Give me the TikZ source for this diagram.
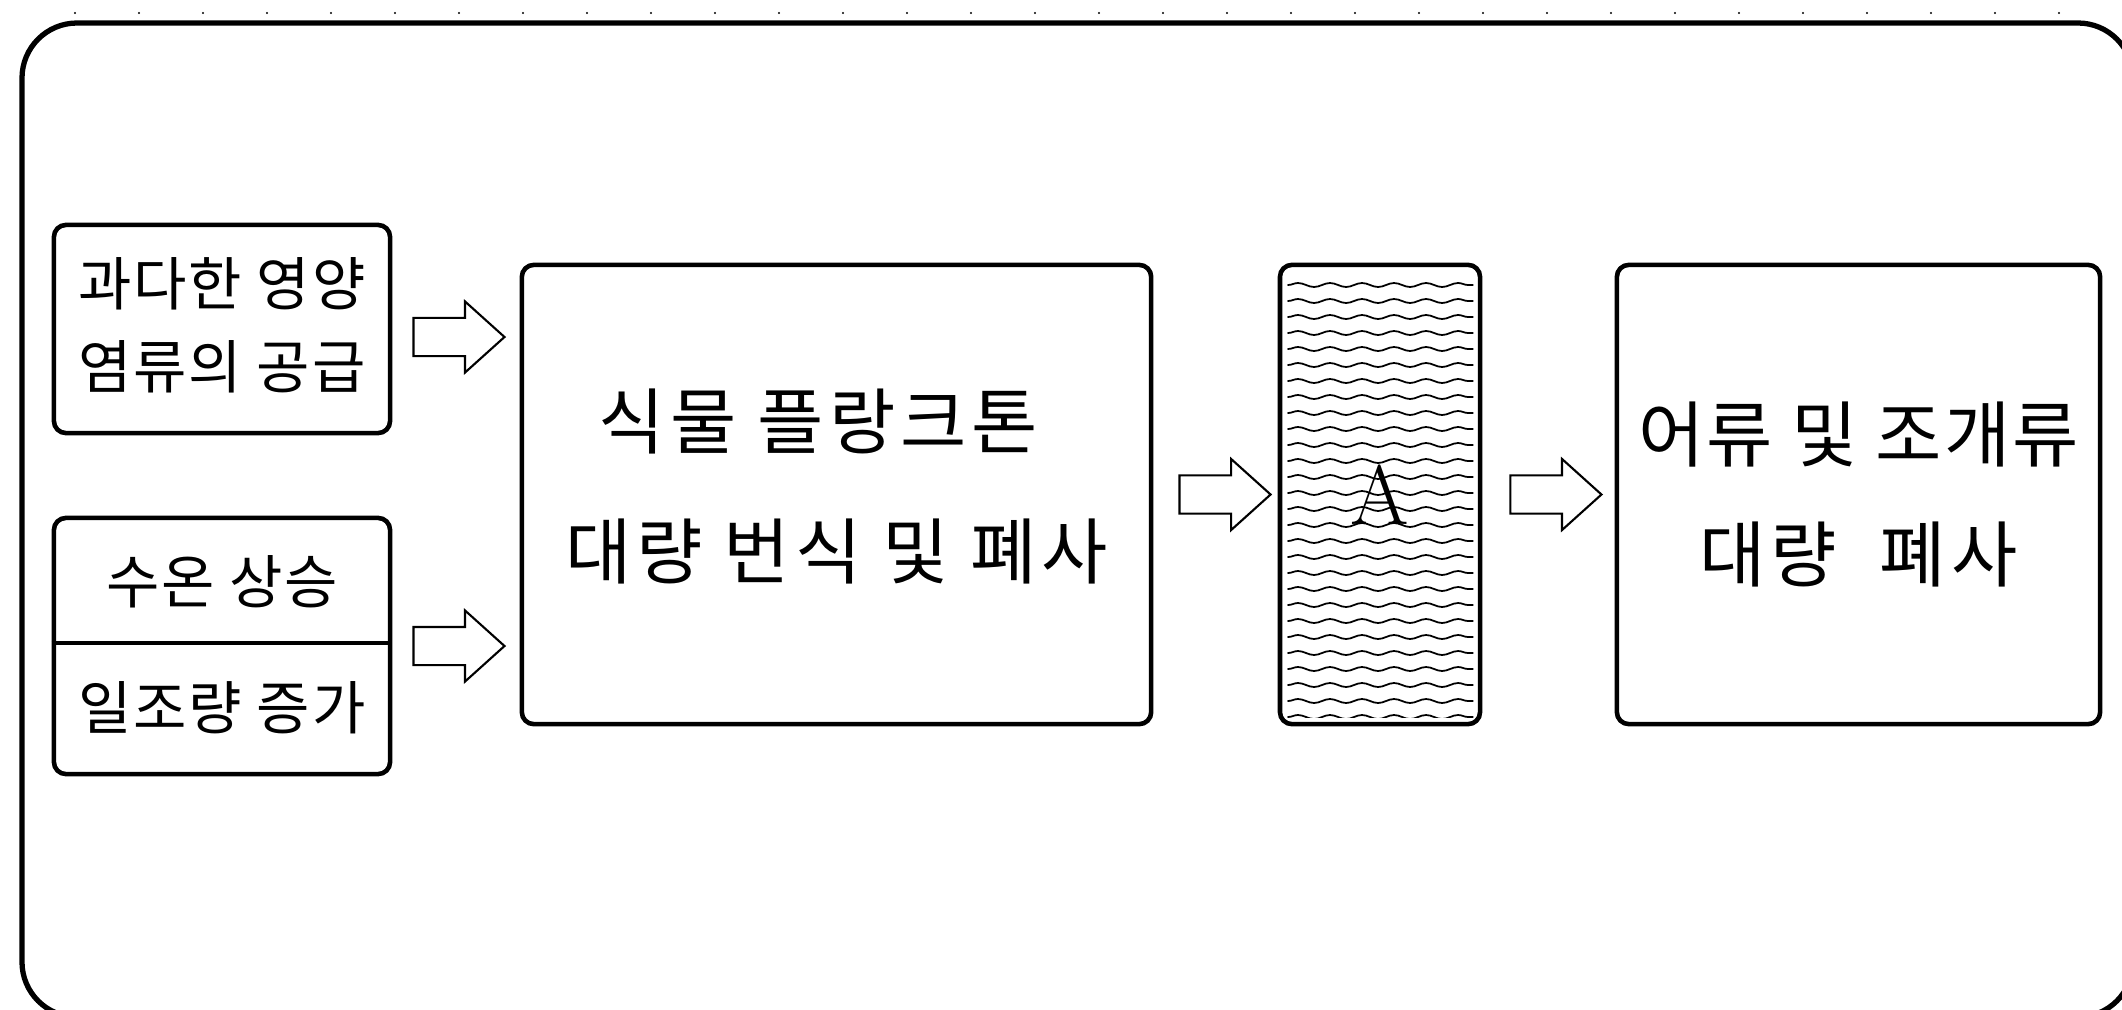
\documentclass[tikz,border=0pt]{standalone}
\usepackage{fontspec}
\newfontfamily\kr[LetterSpace=3]{Noto Sans CJK KR}
\newfontfamily\krwide[LetterSpace=7]{Noto Sans CJK KR}
\usetikzlibrary{calc, shapes.arrows, decorations.pathmorphing}

\begin{document}
\begin{tikzpicture}[x=0.01cm, y=-0.01cm, line cap=round,
	box/.style={draw, line width=1.3pt, rounded corners=0.12cm, inner sep=0pt},
	blockarrow/.style={draw, line width=0.6pt, single arrow, minimum height=0.91cm, anchor=tail,
		single arrow head extend=0.165cm, inner sep=0.18cm, single arrow tip angle=84},
	small/.style={font=\kr\fontsize{16.5}{23.5}\selectfont, align=center, inner sep=0pt},
	big/.style={font=\kr\fontsize{20.5}{34}\selectfont, align=center, inner sep=0pt},
	wave/.style={line width=0.5pt, decorate, decoration={snake, amplitude=0.02cm, segment length=0.32cm}}]

	\useasboundingbox (0,0) rectangle (2122,1009);

	% frame
	\foreach \i in {0,...,31}
		\fill (75+64*\i,13) circle (0.012cm);
	\draw[line width=1.5pt, rounded corners=0.55cm] (22,23) rectangle (2133,1017);

	\coordinate (N) at (222,329);
	\coordinate (W) at (222,646);
	\coordinate (B) at (836.5,494.5);
	\coordinate (R) at (1380,494.5);
	\coordinate (D) at (1858.5,494.5);

	\node[box, minimum width=3.36cm, minimum height=2.08cm] (nutrient) at (N) {};
	\node[small] (nutrienttext) at ($(N)+(0,-4)$) {과다한 영양\\염류의 공급};

	\node[box, minimum width=3.36cm, minimum height=2.56cm] (warm) at (W) {};
	\draw[line width=1.3pt, line cap=butt] (warm.west |- 0,643) -- (warm.east |- 0,643);
	\node[small] (warmtext) at (222,582) {수온 상승};
	\node[small] (suntext) at (222,708) {일조량 증가};

	\node[box, minimum width=6.29cm, minimum height=4.59cm] (bloom) at (B) {};
	\node[big, font=\krwide\fontsize{20.5}{37}\selectfont] (bloomtext) at ($(B)+(0,-8)$) {식물 플랑크톤\hspace*{0.5em}\\대량 번식 및 폐사};

	\node[box, minimum width=2cm, minimum height=4.59cm] (redtide) at (R) {};
	\begin{scope}
		\clip ($(redtide.north west)+(9,9)$) rectangle ($(redtide.south east)+(-9,-9)$);
		\foreach \row in {0,...,27}
			\draw[wave] (1288,285+16*\row) -- (1478,285+16*\row);
	\end{scope}
	\node[font=\fontsize{24}{28}\selectfont, inner sep=0pt] (redtidetext) at (R) {A};

	\node[box, minimum width=4.83cm, minimum height=4.59cm] (death) at (D) {};
	\node[big] (deathtext) at (D) {어류 및 조개류\\{\krwide 대량\hspace{0.3em} 폐사}};

	\node[blockarrow] (arrow1) at ($(nutrient.east)+(20,8)$) {};
	\node[blockarrow] (arrow2) at ($(warm.east)+(20,0)$) {};
	\node[blockarrow] (arrow3) at ($(bloom.east)+(25,0)$) {};
	\node[blockarrow] (arrow4) at ($(redtide.east)+(27,0)$) {};

\end{tikzpicture}
\end{document}
